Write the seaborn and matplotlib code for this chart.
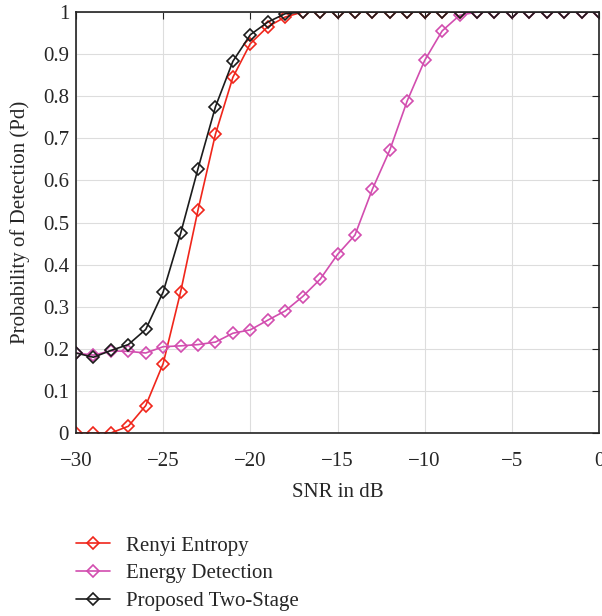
import numpy as np
import pandas as pd
import matplotlib
matplotlib.use("Agg")
import matplotlib.pyplot as plt
import seaborn as sns

snr_db = list(range(-30, 1))
renyi = [0, 0, 0, 0.016, 0.065, 0.165, 0.335, 0.53, 0.71, 0.845, 0.925, 0.965, 0.988,
         1, 1, 1, 1, 1, 1, 1, 1, 1, 1, 1, 1, 1, 1, 1, 1, 1, 1]
energy = [0.19, 0.185, 0.195, 0.194, 0.19, 0.205, 0.207, 0.21, 0.216, 0.237, 0.245, 0.268,
          0.29, 0.324, 0.365, 0.424, 0.47, 0.579, 0.672, 0.789, 0.885, 0.955, 0.992,
          1, 1, 1, 1, 1, 1, 1, 1]
proposed = [0.19, 0.18, 0.196, 0.21, 0.246, 0.335, 0.474, 0.628, 0.775, 0.883, 0.946, 0.976,
            0.996, 1, 1, 1, 1, 1, 1, 1, 1, 1, 1, 1, 1, 1, 1, 1, 1, 1, 1]

labels = ["Renyi Entropy", "Energy Detection", "Proposed Two-Stage"]
colors = ["#f0261b", "#d24daf", "#1c1c1c"]

sns.set_style("whitegrid", {"grid.color": "#dddddd", "axes.edgecolor": "#222222"})
plt.rcParams["font.family"] = ["Liberation Serif", "DejaVu Serif"]
plt.rcParams["font.size"] = 15

fig = plt.figure(figsize=(6.02, 6.16), dpi=100)
ax = fig.add_axes([76 / 602, 1 - 433 / 616, 523 / 602, 421 / 616])

for series, lab, col in zip([renyi, energy, proposed], labels, colors):
    sns.lineplot(x=snr_db, y=series, ax=ax, color=col, label=lab, marker="D",
                 markersize=6.5, markerfacecolor="none", markeredgecolor=col,
                 markeredgewidth=1.2, linewidth=1.2)

ax.set_xlim(-30, 0)
ax.set_ylim(0, 1)
ax.set_xticks(range(-30, 1, 5))
ax.set_yticks(np.arange(0, 1.01, 0.1))
ax.set_yticklabels(["0"] + [f"{v:.1f}" for v in np.arange(0.1, 0.95, 0.1)] + ["1"])
ax.tick_params(direction="in", length=5, top=True, right=True, labelsize=15,
               color="#222222")
ax.tick_params(axis="x", pad=14)
ax.tick_params(axis="y", pad=5)
for s in ax.spines.values():
    s.set_linewidth(1.2)
ax.set_xlabel("SNR in dB", fontsize=15, labelpad=8)
ax.set_ylabel("Probability of Detection (Pd)", fontsize=15, labelpad=9)

handles, labs = ax.get_legend_handles_labels()
ax.get_legend().remove()
fig.legend(handles, labs, loc="upper left", bbox_to_anchor=(0.127, 0.13),
           frameon=False, fontsize=15, borderpad=0, borderaxespad=0,
           handlelength=1.6, labelspacing=0.4, handletextpad=0.8)

fig.savefig("out.png", dpi=100)
